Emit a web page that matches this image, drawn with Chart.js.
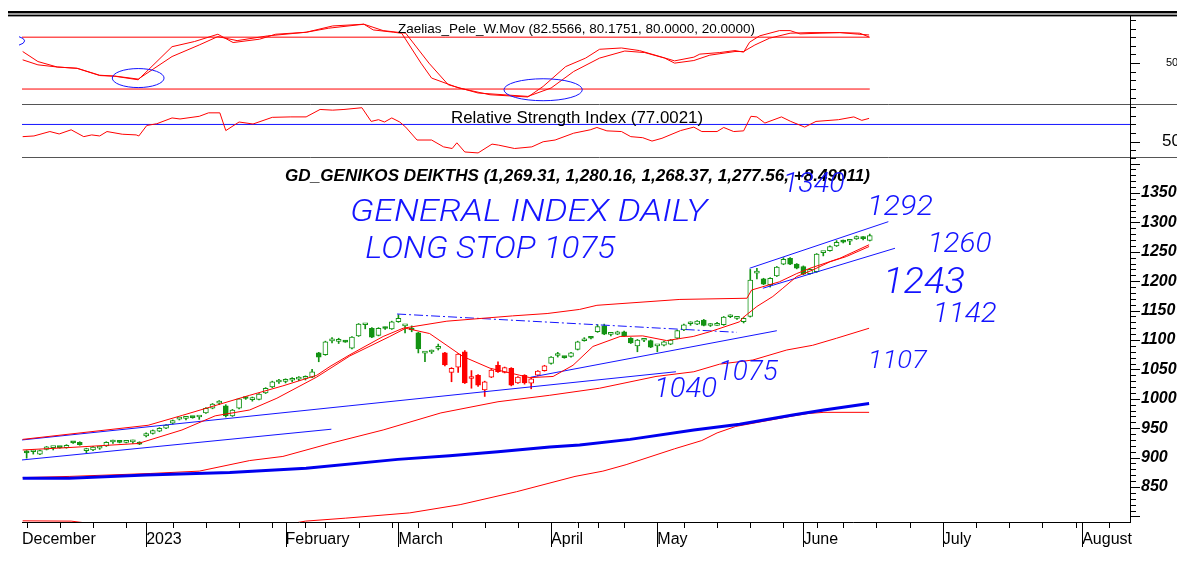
<!DOCTYPE html>
<html lang="en">
<head>
<meta charset="UTF-8">
<title>GD_GENIKOS DEIKTHS</title>
<script src="https://cdn.jsdelivr.net/npm/chart.js@4"></script>
<style>
  html, body { margin: 0; padding: 0; background: #fff; }
  #wrap { position: relative; width: 1177px; height: 562px; overflow: hidden; }
  #wrap canvas { position: absolute; left: 0; top: 0; }
</style>
</head>
<body>
<div id="wrap">
  <canvas id="oscChart" width="1177" height="562"></canvas>
  <canvas id="rsiChart" width="1177" height="562"></canvas>
  <canvas id="mainChart" width="1177" height="562"></canvas>
</div>
<script>
// daily bars, index 0 = first bar shown (early December 2022)
const opens = [
  911, 910, 906, 914, 917, 917.5, 917, 926, 926, 912,
  913, 916, 920, 926.5, 926.4, 926, 926.7, 926.5, 937, 941,
  945, 950, 958.5, 965.5, 966.6, 968.3, 969, 976, 984, 992.6,
  988, 971, 984, 1002, 998.7, 999, 1010, 1020, 1028.6, 1029.7,
  1031.6, 1033.6, 1034.7, 1037, 1078, 1075, 1098.6, 1097.7, 1098, 1086,
  1107, 1126, 1120, 1108, 1121, 1119, 1131, 1124, 1118.5, 1112,
  1077.6, 1079.6, 1085.7, 1078, 1045, 1054, 1080, 1034.6, 1040, 1015,
  1037, 1057, 1045, 1052, 1027, 1040, 1026.5, 1040, 1048, 1060,
  1073.7, 1070.5, 1072, 1084, 1098.7, 1103.5, 1114, 1124, 1109.7, 1110,
  1114, 1103, 1090, 1099.6, 1099, 1090, 1091, 1093, 1103, 1117,
  1127.6, 1127, 1134, 1124.7, 1125, 1126, 1139.6, 1136.7, 1131, 1140,
  1213.6, 1204, 1194, 1209, 1229, 1239, 1229, 1225, 1213, 1216,
  1248.6, 1252, 1260, 1268, 1268, 1272, 1274, 1269.31
];
const highs = [
  912, 913, 913, 919, 918, 918, 922, 926.5, 927, 916,
  919, 919, 927, 930, 927, 927, 930, 927, 942, 947,
  951, 956, 964, 967, 970, 969, 970, 985, 992, 997,
  990, 982, 1001, 1003, 1003, 1009, 1019, 1030, 1033, 1034,
  1036, 1038, 1039, 1050, 1079, 1098, 1104, 1103, 1099, 1106,
  1128, 1127, 1121, 1121, 1122, 1132, 1143, 1125, 1124, 1113,
  1080, 1083, 1093, 1079, 1053, 1077, 1082, 1048, 1041, 1030,
  1050, 1063, 1054, 1053, 1038, 1041, 1035, 1048, 1057, 1072,
  1079, 1072, 1079, 1098, 1104, 1104, 1126, 1127, 1113, 1115,
  1115, 1104, 1101, 1103, 1100, 1091, 1098, 1101, 1117, 1127,
  1131, 1133, 1135, 1128, 1130, 1140, 1143, 1140, 1138, 1220,
  1222, 1205, 1206, 1225, 1240, 1240, 1230, 1226, 1221, 1247,
  1250, 1260, 1269, 1270, 1269, 1277, 1276, 1280.16
];
const lows = [
  899, 906, 905, 913, 913, 916, 916, 924, 921, 908,
  912, 914, 919, 924, 925, 925, 924, 922, 935, 940,
  944, 949, 957, 964, 964, 967, 965, 975, 983, 990,
  969, 970, 983, 999, 996, 998, 1009, 1019, 1026, 1027,
  1029, 1031, 1032, 1036, 1063, 1074, 1095, 1094, 1096, 1085,
  1106, 1119, 1104, 1107, 1118, 1118, 1130, 1112, 1114, 1078,
  1063, 1077, 1083, 1056, 1029, 1045, 1026, 1018, 1021, 1004,
  1036, 1045, 1044, 1022, 1026, 1025, 1017, 1039, 1047, 1059,
  1071, 1069, 1071, 1083, 1098, 1102, 1113, 1109, 1107, 1109,
  1106, 1094, 1080, 1097, 1087, 1080, 1090, 1092, 1102, 1116,
  1125, 1126, 1124, 1123, 1125, 1125, 1138, 1135, 1129, 1139,
  1204, 1194, 1190, 1208, 1228, 1228, 1221, 1211, 1212, 1215,
  1243, 1251, 1259, 1265, 1262, 1271, 1270, 1268.37
];
const closes = [
  908, 910.6, 912, 918.5, 917.5, 917, 921, 925, 922, 914,
  918, 916.6, 926, 927.2, 926, 926.5, 927.3, 923, 941, 946,
  950, 955.5, 963, 966, 967.3, 968, 969.5, 984, 991, 993.2,
  971, 981, 1000, 1000.5, 999.3, 1008, 1018, 1029, 1029.3, 1030.4,
  1032.3, 1034.3, 1035.4, 1046, 1071, 1097, 1099.3, 1098.4, 1096.5, 1105,
  1127, 1126.6, 1105, 1120, 1119.5, 1131, 1137, 1124.6, 1117, 1085,
  1078.3, 1080.3, 1086.4, 1057.5, 1052, 1076, 1027, 1035.3, 1023, 1029,
  1049, 1046, 1053, 1023, 1037, 1027, 1034, 1047, 1056, 1071,
  1074.4, 1070, 1078, 1097, 1099.3, 1103, 1123, 1110, 1110.4, 1114,
  1107, 1095, 1100, 1100.3, 1088, 1090.6, 1097, 1100, 1116, 1126,
  1128.3, 1132, 1125, 1125.4, 1125.6, 1139, 1140.3, 1137.4, 1137, 1202,
  1214.3, 1195, 1205, 1224, 1237, 1229, 1222, 1212, 1220, 1246,
  1249.3, 1259, 1266, 1266.5, 1268.6, 1276, 1272.5, 1277.56
];
// g = green bar, r = red bar
const barTone = ('gggggggggg' + 'gggggggggg' + 'gggggggggg' + 'gggggggggg' + 'gggggggggg' +
  'gggggggggg' + 'gggrrrrrrr' + 'rrrrrrrrrg' + 'gggggggggg' + 'gggggggggg' +
  'gggggggggg' + 'gggggggggg' + 'gggggggg').split('');

// moving averages on the price pane (bar index -> value)
const maFastX = [-0.6, 6.2, 16.8, 23.4, 28.4, 33.6, 37.7, 43.7, 48.7, 54.7, 57.1, 60.7, 65.7, 69.8, 74.3, 75.8, 79.3, 82.3, 85.3, 89.4, 92.8, 96.4, 100.4, 102.9, 107.4, 107.9, 110, 112.4, 113.9, 116, 118.4, 121, 123.5, 126.9];
const maFastY = [913, 917, 924, 947, 971, 981, 1001, 1037, 1073, 1106, 1120, 1111, 1072, 1052, 1040, 1036, 1038, 1057, 1089, 1106, 1107, 1099, 1106, 1114, 1131, 1138, 1157, 1174, 1188, 1208, 1219, 1233, 1242, 1259];
const maSlowX = [-0.6, 18.3, 23.5, 28.7, 33.6, 38.6, 43.7, 45.7, 48.7, 53.7, 56.7, 63.3, 73.2, 78.4, 83.3, 85.9, 98.4, 108.5, 109.2, 113.4, 116, 118, 122.5, 126.9];
const maSlowY = [931, 955, 972, 989.5, 1006, 1022, 1040, 1055, 1075, 1106, 1120, 1132, 1141, 1145, 1152, 1159, 1169, 1171, 1185, 1199, 1213, 1222, 1239, 1262];
const maMidX = [-0.6, 6.4, 18.6, 26, 33.6, 38.6, 46, 53.7, 62.4, 71, 78.8, 86.3, 94.8, 100.5, 104.4, 109.4, 114.5, 118.4, 122, 126.9];
const maMidY = [866, 868, 873, 877, 895, 902, 925, 947, 976, 995, 1006, 1018, 1038, 1046, 1059, 1066, 1083, 1091, 1103, 1120];
const maLongX = [-0.6, 6.7, 11, 26, 38, 42, 48, 57.7, 65.3, 73.8, 82.6, 86.8, 90.3, 97.6, 101.7, 104, 106.8, 115, 117.7, 120.1, 126.9];
const maLongY = [792.5, 792, 786, 776, 784, 792, 797, 806, 820, 842, 868, 877, 888, 915, 929, 942, 953, 970, 975, 977, 977];
const maBlueX = [-0.6, 6.4, 18, 30.6, 42.1, 55.9, 63.7, 71, 78.8, 83.3, 90.9, 100.5, 107.4, 115.4, 120.1, 126.9];
const maBlueY = [865, 865, 870.5, 874.6, 882, 897, 903, 910, 918, 921.6, 931, 947, 956.6, 972.5, 981, 992];

// hand-drawn trend lines [start, end]
const trendX = [[-0.7, 97.8], [-0.7, 45.9], [75.9, 113], [108.9, 129.8], [110.9, 130.8]];
const trendY = [[930, 1046], [896, 948.3], [1036.6, 1115.8], [1222, 1301.2], [1188, 1256]];
const resistX = [55.8, 107];
const resistY = [1144.2, 1113.1];

// Zaelias_Pele_W.Mov oscillator
const oscFastX = [-0.6, 1.7, 4.6, 7.6, 11, 13.3, 16.8, 21.9, 25.3, 28.8, 31.1, 35.1, 37.5, 42.1, 46.1, 50.8, 52.2, 55.3, 56.5, 59.4, 61, 65.1, 69.8, 75.5, 77.8, 81.2, 84.2, 86.3, 89.6, 92.3, 95.4, 97.6, 100.5, 101.4, 104.4, 106.7, 108, 108.9, 110.4, 113.4, 115, 116.5, 119.5, 122.5, 125.2, 126.9];
const oscFastY = [63.4, 51.8, 45.5, 44, 35.6, 34.8, 30.7, 69, 75, 83.4, 73.8, 77.7, 83.4, 85.7, 93, 95, 88.4, 85.7, 84.5, 50, 32.7, 21.2, 13.4, 10.8, 23, 46, 55.8, 66, 67.5, 64.5, 57.6, 52.6, 56.9, 60.4, 62.2, 64.5, 62.7, 74.2, 81.5, 87.6, 87.6, 83.8, 84.6, 85.3, 83.5, 82.56];
const oscSlowX = [-0.6, 1.7, 4.6, 7.6, 11, 13.3, 16.8, 21.9, 26, 28.8, 31.7, 36.3, 42.1, 45.5, 50.8, 53.7, 57.1, 60.6, 63.5, 68, 75.5, 79, 82.4, 86.3, 90.1, 93.1, 96.1, 97.6, 100.5, 102.9, 106.7, 108, 109.7, 111.9, 115, 118, 122.5, 125.5, 126.9];
const oscSlowY = [53.8, 48, 45.5, 44, 36, 35, 31.5, 57.6, 71, 80.7, 76, 81.5, 85.7, 90.4, 95, 87.6, 84.6, 50, 25, 15.4, 11.5, 21.2, 40.3, 55.8, 64, 62.2, 55.8, 50, 53, 59.2, 63.4, 63.4, 71, 78.8, 84.6, 85.3, 85.3, 84.6, 80.18];
const oscLevels = [80, 20];

// RSI
const rsiX = [-0.6, 1.1, 3.5, 4.9, 6.7, 8.6, 9.8, 11, 12.1, 14.4, 16.5, 16.9, 18.1, 19.6, 21.9, 23.1, 26, 27.4, 29.1, 30, 32, 34.1, 37, 39.8, 42.1, 44.2, 46.1, 47.8, 50.5, 51.9, 53, 53.9, 55, 56.2, 57.1, 58.8, 61, 62.8, 64.1, 64.8, 66, 68, 70.1, 71.1, 73.5, 76.1, 77.8, 79.6, 82.4, 84.9, 85.9, 87.4, 89.6, 91, 92.8, 94.2, 95.7, 98.5, 100.5, 101.7, 104, 105, 106.5, 108, 109.1, 110, 111.2, 113.7, 115.1, 117.2, 118.9, 122.3, 124.6, 125.8, 126.9];
const rsiY = [55.9, 56.7, 61.8, 59, 63.8, 55.9, 57.9, 56.7, 61.8, 58.7, 57.9, 56.7, 68.8, 70.8, 77.5, 76.3, 79.4, 83.4, 83.4, 62.9, 72.8, 70.5, 78.2, 78.7, 78.7, 87.3, 86.5, 87.3, 89.3, 73.5, 75.5, 72.8, 77.5, 72.8, 66.9, 52, 52, 44.1, 42.2, 48.8, 38.2, 37.1, 47.3, 46.1, 42.2, 44.1, 50, 52, 59.9, 63.8, 66.5, 62.6, 61.8, 55.9, 54.7, 50.8, 54, 62.9, 66.9, 61.8, 61.8, 66.5, 61.8, 62.6, 79.4, 78.7, 71.6, 78.7, 73.5, 66.9, 73.5, 75.5, 78.7, 74.7, 77.0];
const rsiLevel = 70;

// axis labels
const monthLabelIdx = [-0.7, 18, 39, 56, 79, 95, 117, 138, 159];
const monthNames = ['December', '2023', 'February', 'March', 'April', 'May', 'June', 'July', 'August'];
const weekTickIdx = [0, 5, 10, 15, 22, 27, 32, 37, 42, 45, 50, 55, 59, 64, 69, 74, 83, 86, 90, 99, 104, 109, 114, 119, 123, 128, 133, 143, 148, 153, 158, 163];
const priceLabels = [850, 900, 950, 1000, 1050, 1100, 1150, 1200, 1250, 1300, 1350];

const mainTitle = 'GD_GENIKOS DEIKTHS (1,269.31, 1,280.16, 1,268.37, 1,277.56, +8.49011)';
const oscTitle = 'Zaelias_Pele_W.Mov (82.5566, 80.1751, 80.0000, 20.0000)';
const rsiTitle = 'Relative Strength Index (77.0021)';

// hand written notes on the price pane
const notes = [
  {t: 'GENERAL INDEX DAILY', i: 48.7, v: 1302.4, s: 31, w: 357},
  {t: 'LONG STOP 1075', i: 51.0, v: 1239.5, s: 32, w: 250},
  {t: '1340', i: 113.9, v: 1351.7, s: 28, w: 62},
  {t: '1292', i: 126.6, v: 1312.6, s: 28, w: 66},
  {t: '1260', i: 135.7, v: 1249.7, s: 27, w: 64},
  {t: '1243', i: 129, v: 1180, s: 36, w: 82},
  {t: '1142', i: 136.5, v: 1130.6, s: 28, w: 64},
  {t: '1107', i: 126.7, v: 1052.4, s: 26, w: 59},
  {t: '1075', i: 104.1, v: 1032, s: 28, w: 60},
  {t: '1040', i: 94.5, v: 1002.9, s: 27, w: 63}
];
// ellipses on the oscillator
const oscRings = [
  {i: 16.8, v: 32.7, ri: 3.9, rv: 11},
  {i: 77.8, v: 19.2, ri: 5.9, rv: 12.7},
  {i: -3.3, v: 75.7, ri: 3.0, rv: 7}
];

const xMin = -0.7, xMax = 166.2;
const lastIdx = opens.length - 1;
const GREEN = '#139313', RED = '#ff0000', BLUE = '#1414ff';
const FONT = "'Liberation Sans', Arial, sans-serif";

function pts(xs, ys) { return xs.map((x, k) => ({x: x, y: ys[k]})); }
function lineSet(xs, ys, color, width, order, dash) {
  return {type: 'line', data: pts(xs, ys), borderColor: color, borderWidth: width,
    pointRadius: 0, tension: 0, fill: false, order: order, borderDash: dash || []};
}
function toneColor(i) { return barTone[i] === 'r' ? RED : GREEN; }

// text squeezed/stretched to the width it has on the original
function fitText(ctx, text, x, y, width) {
  const k = width / ctx.measureText(text).width;
  ctx.save();
  ctx.translate(x, y);
  ctx.scale(k, 1);
  ctx.fillText(text, 0, 0);
  ctx.restore();
}

function rightAxis(ctx, a, y, step, isMajor) {
  ctx.save();
  ctx.strokeStyle = '#000';
  ctx.lineWidth = 1;
  ctx.beginPath();
  ctx.moveTo(a.right + 0.5, a.top);
  ctx.lineTo(a.right + 0.5, a.bottom);
  for (let v = Math.ceil(y.min / step) * step; v <= y.max; v += step) {
    const py = Math.round(y.getPixelForValue(v)) + 0.5;
    ctx.moveTo(a.right, py);
    ctx.lineTo(a.right + (isMajor(v) ? 10 : 6), py);
  }
  ctx.stroke();
  ctx.restore();
}

function sideScale(min, max, labels, size, pad, style, weight) {
  return {
    type: 'linear', position: 'right', min: min, max: max,
    grid: {display: false, drawTicks: false}, border: {display: false},
    afterBuildTicks: s => { s.ticks = labels.map(v => ({value: v})); },
    afterFit: s => { s.width = 47; s.paddingTop = 0; s.paddingBottom = 0; },
    ticks: {padding: pad, color: '#000', font: {family: FONT, size: size, style: style, weight: weight},
      callback: v => String(v)}
  };
}

const common = {
  responsive: false, animation: false, events: [],
  plugins: {legend: {display: false}, tooltip: {enabled: false}}
};

// ---------- oscillator pane
const oscDecor = {
  id: 'oscDecor',
  afterDraw(chart) {
    const {ctx, chartArea: a, scales: {x, y}} = chart;
    ctx.save();
    ctx.fillStyle = '#000';
    ctx.fillRect(8, 11, chart.width - 8, 2.4);
    ctx.fillRect(8, 14.6, chart.width - 8, 1.8);
    ctx.strokeStyle = '#555';
    ctx.lineWidth = 1;
    ctx.beginPath();
    ctx.moveTo(a.left, a.bottom + 0.5);
    ctx.lineTo(chart.width, a.bottom + 0.5);
    ctx.stroke();
    ctx.restore();
    rightAxis(ctx, a, y, 10, v => v === 50);
    ctx.save();
    ctx.fillStyle = '#000';
    ctx.font = '13px ' + FONT;
    ctx.textBaseline = 'middle';
    fitText(ctx, oscTitle, 398, a.top + 13.5, 357);
    ctx.beginPath();
    ctx.rect(a.left - 3, a.top, a.right - a.left + 3, a.bottom - a.top);
    ctx.clip();
    ctx.strokeStyle = BLUE;
    ctx.lineWidth = 1;
    oscRings.forEach(r => {
      const cx = x.getPixelForValue(r.i), cy = y.getPixelForValue(r.v);
      const rx = Math.abs(x.getPixelForValue(r.i + r.ri) - cx);
      const ry = Math.abs(y.getPixelForValue(r.v + r.rv) - cy);
      ctx.beginPath();
      ctx.ellipse(cx, cy, rx, ry, 0, 0, Math.PI * 2);
      ctx.stroke();
    });
    ctx.restore();
  }
};

new Chart(document.getElementById('oscChart'), {
  type: 'line',
  data: {datasets: [
    lineSet(oscFastX, oscFastY, RED, 1, 1),
    lineSet(oscSlowX, oscSlowY, RED, 1, 1),
    ...oscLevels.map(v => lineSet([xMin, lastIdx], [v, v], RED, 1, 2))
  ]},
  options: {...common,
    layout: {padding: {left: 22, right: 0, top: 16, bottom: 458}},
    scales: {
      x: {type: 'linear', min: xMin, max: xMax, display: false},
      y: sideScale(2.7, 104.5, [50], 11, 36, 'normal', 'normal')
    }
  },
  plugins: [oscDecor]
});

// ---------- RSI pane
const rsiDecor = {
  id: 'rsiDecor',
  afterDraw(chart) {
    const {ctx, chartArea: a, scales: {y}} = chart;
    ctx.save();
    ctx.strokeStyle = '#555';
    ctx.lineWidth = 1;
    ctx.beginPath();
    ctx.moveTo(a.left, a.bottom + 0.5);
    ctx.lineTo(chart.width, a.bottom + 0.5);
    ctx.stroke();
    ctx.fillStyle = '#000';
    ctx.font = '17px ' + FONT;
    ctx.textBaseline = 'middle';
    fitText(ctx, rsiTitle, 451, a.top + 14, 252);
    ctx.restore();
    rightAxis(ctx, a, y, 10, v => v === 50);
  }
};

new Chart(document.getElementById('rsiChart'), {
  type: 'line',
  data: {datasets: [
    lineSet(rsiX, rsiY, RED, 1, 1),
    lineSet([xMin, xMax], [rsiLevel, rsiLevel], BLUE, 1, 2)
  ]},
  options: {...common,
    layout: {padding: {left: 22, right: 0, top: 104, bottom: 405}},
    scales: {
      x: {type: 'linear', min: xMin, max: xMax, display: false},
      y: sideScale(32.4, 93.6, [50], 17, 32, 'normal', 'normal')
    }
  },
  plugins: [rsiDecor]
});

// ---------- price pane
const mainDecor = {
  id: 'mainDecor',
  afterDraw(chart) {
    const {ctx, chartArea: a, scales: {x, y}} = chart;
    rightAxis(ctx, a, y, 10, v => v % 50 === 0);
    ctx.save();
    ctx.strokeStyle = '#000';
    ctx.lineWidth = 1;
    ctx.beginPath();
    ctx.moveTo(a.left, a.bottom + 0.5);
    ctx.lineTo(a.right + 1, a.bottom + 0.5);
    weekTickIdx.forEach(i => {
      const px = Math.round(x.getPixelForValue(i)) + 0.5;
      ctx.moveTo(px, a.bottom); ctx.lineTo(px, a.bottom + 6);
    });
    monthLabelIdx.filter(i => i > xMin).forEach(i => {
      const px = Math.round(x.getPixelForValue(i)) + 0.5;
      ctx.moveTo(px, a.bottom); ctx.lineTo(px, a.bottom + 25);
    });
    ctx.stroke();

    ctx.fillStyle = '#000';
    ctx.font = 'italic bold 17px ' + FONT;
    ctx.textBaseline = 'middle';
    fitText(ctx, mainTitle, 285, a.top + 19, 585);

    ctx.fillStyle = BLUE;
    ctx.textBaseline = 'alphabetic';
    notes.forEach(n => {
      ctx.font = 'italic 300 ' + n.s + 'px Roboto, ' + FONT;
      fitText(ctx, n.t, x.getPixelForValue(n.i), y.getPixelForValue(n.v), n.w);
    });
    ctx.restore();
  }
};

const trendSets = trendX.map((xs, k) => lineSet(xs, trendY[k], BLUE, 1, 1));

new Chart(document.getElementById('mainChart'), {
  type: 'line',
  data: {datasets: [
    lineSet(maBlueX, maBlueY, '#0000ee', 3, 1),
    lineSet(maLongX, maLongY, RED, 1, 1),
    lineSet(maMidX, maMidY, RED, 1, 1),
    lineSet(maSlowX, maSlowY, RED, 1, 1),
    lineSet(maFastX, maFastY, RED, 1, 1),
    ...trendSets,
    lineSet(resistX, resistY, BLUE, 1, 1, [9, 3, 2, 3]),
    {
      type: 'bar', order: 2, grouped: false, barThickness: 5, minBarLength: 2,
      borderWidth: 1, borderSkipped: false,
      data: opens.map((o, i) => ({x: i, y: [o, closes[i]]})),
      borderColor: c => toneColor(c.dataIndex),
      backgroundColor: c => closes[c.dataIndex] >= opens[c.dataIndex] ? '#ffffff' : toneColor(c.dataIndex)
    },
    {
      type: 'bar', order: 3, grouped: false, barThickness: 1, borderWidth: 0,
      data: lows.map((l, i) => ({x: i, y: [l, highs[i]]})),
      backgroundColor: c => toneColor(c.dataIndex)
    }
  ]},
  options: {...common,
    layout: {padding: {left: 22, right: 0, top: 157, bottom: 0}},
    scales: {
      x: {
        type: 'linear', position: 'bottom', min: xMin, max: xMax, offset: false,
        grid: {display: false, drawTicks: false}, border: {display: false},
        afterBuildTicks: s => { s.ticks = monthLabelIdx.map(v => ({value: v})); },
        afterFit: s => { s.height = 40; s.paddingLeft = 0; s.paddingRight = 0; },
        ticks: {align: 'start', padding: 8, autoSkip: false, maxRotation: 0, color: '#000',
          font: {family: FONT, size: 16},
          callback: (v, k) => monthNames[k]}
      },
      y: sideScale(790.5, 1411.2, priceLabels, 16, 11, 'italic', 'bold')
    }
  },
  plugins: [mainDecor]
});
</script>
</body>
</html>
